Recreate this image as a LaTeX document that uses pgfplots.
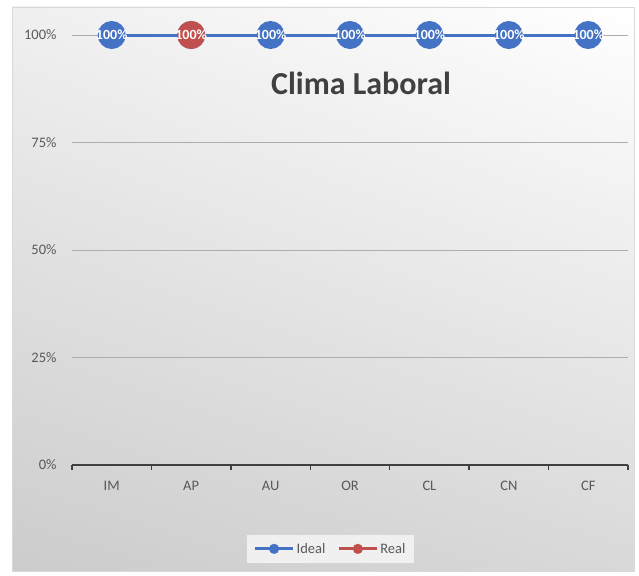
\documentclass[border=0pt]{standalone}
\usepackage{fontspec}
\setmainfont{Carlito}
\usepackage{pgfplots}
\pgfplotsset{compat=1.18}
\usetikzlibrary{shadings}
\definecolor{ideal}{HTML}{4472C4}
\definecolor{real}{HTML}{C0504D}
\definecolor{txt}{HTML}{595959}
\begin{document}
\begin{tikzpicture}
\useasboundingbox (0pt,0pt) rectangle (639pt,-575pt);
\fill[white] (0pt,0pt) rectangle (639pt,-575pt);
\shade[upper left=black!6, upper right=white, lower left=black!20, lower right=black!15] (12pt,-7pt) rectangle (634pt,-571pt);
\draw[black!15] (12pt,-7pt) rectangle (634pt,-571pt);
\begin{axis}[
  at={(72pt,-465pt)}, anchor=south west, scale only axis,
  width=556pt, height=430pt,
  xmin=-0.5, xmax=6.5, ymin=0, ymax=1,
  clip=false,
  axis lines*=left, separate axis lines,
  x axis line style={line width=2pt, black!75},
  y axis line style={draw=none},
  xtick={0,...,6}, xticklabels={IM,AP,AU,OR,CL,CN,CF},
  major x tick style={draw=none},
  minor xtick={-0.5,0.5,...,6.5},
  minor x tick style={line width=1.5pt, black!75},
  minor tick length=5pt, major tick length=0pt,
  tick align=outside,
  ytick={0,0.25,0.5,0.75,1},
  yticklabels={0\%,25\%,50\%,75\%,100\%},
  ytick style={draw=none},
  ymajorgrids, major grid style={black!32, line width=0.8pt},
  xticklabel style={font=\fontsize{14.5}{16}\selectfont, text=txt, yshift=-13pt},
  yticklabel style={font=\fontsize{14.5}{16}\selectfont, text=txt, xshift=-12pt},
  legend style={at={(0.465,-0.195)}, anchor=center, legend columns=2,
    fill=black!6, draw=none, font=\fontsize{14.5}{16}\selectfont, text=txt,
    inner xsep=7pt, inner ysep=6pt,
    /tikz/every even column/.append style={column sep=10pt}},
  legend image code/.code={
    \draw[line width=3pt] (0pt,0pt) -- (38pt,0pt);
    \fill (19pt,0pt) circle (3.5pt);
  },
]
\addplot[ideal, line width=3pt, mark=*, mark size=12.5pt,
  mark options={fill=ideal, draw=ideal},
  nodes near coords={100\%},
  every node near coord/.append style={anchor=center, text=white,
    font=\fontsize{14}{14}\selectfont\bfseries}]
  coordinates {(0,1) (1,1) (2,1) (3,1) (4,1) (5,1) (6,1)};
\addlegendentry{Ideal}
\addplot[real, line width=3pt, mark=*, mark size=12.5pt,
  mark options={fill=real, draw=real},
  nodes near coords={100\%},
  every node near coord/.append style={anchor=center, text=white,
    font=\fontsize{14}{14}\selectfont\bfseries}]
  coordinates {(1,1)};
\addlegendentry{Real}
\end{axis}
\node[font=\fontsize{32}{36}\selectfont\bfseries, text=black!75] at (361pt,-83pt) {Clima Laboral};
\end{tikzpicture}
\end{document}
